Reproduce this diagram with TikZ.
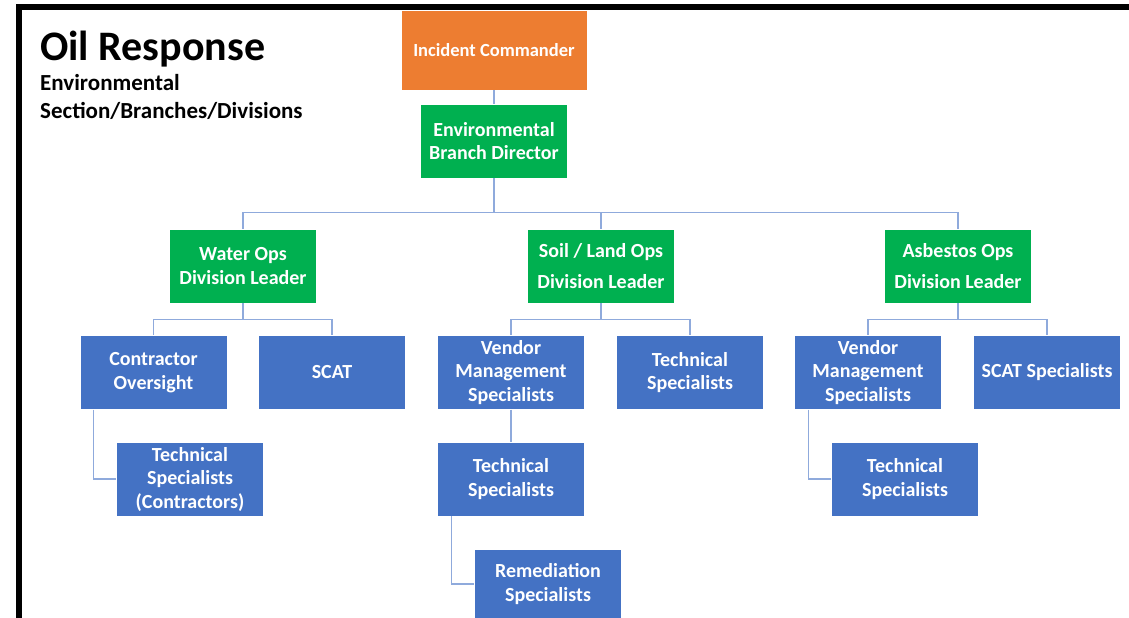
\documentclass[tikz,border=0pt]{standalone}
\usepackage{fontspec}
\setmainfont{Carlito}
\usetikzlibrary{positioning,calc}
\definecolor{cmdorange}{HTML}{ED7D31}
\definecolor{leadgreen}{HTML}{00B050}
\definecolor{opsblue}{HTML}{4472C4}
\definecolor{linkblue}{HTML}{8FAADC}
\tikzset{
    every node/.style={font=\bfseries\fontsize{20}{23.5}\selectfont},
    orangebox/.style={fill=cmdorange, draw=white, text=white, align=center, inner sep=0pt, minimum width=186pt, minimum height=80pt, font=\bfseries\fontsize{18.5}{22}\selectfont},
    greenbox/.style={fill=leadgreen, draw=white, text=white, align=center, inner sep=0pt, minimum width=147pt, minimum height=74pt},
    bluebox/.style={fill=opsblue, draw=white, text=white, align=center, inner sep=0pt, minimum width=147pt, minimum height=74pt},
    titletext/.style={text=black, anchor=base west, inner sep=0pt},
    link/.style={draw=linkblue, line width=1.3pt},
}

\begin{document}
\begin{tikzpicture}[x=1pt,y=1pt]
\useasboundingbox (0,0) rectangle (1129,-618);
% frame on top and left
\draw[line width=6pt, line join=miter] (19,-618) -- (19,-7.5) -- (1129,-7.5);

% title
\node[titletext, font=\bfseries\fontsize{42}{48}\selectfont] (title) at (40,-60) {Oil Response};
\node[titletext, font=\bfseries\fontsize{23}{27}\selectfont] (sub1) at (40,-90) {Environmental};
\node[titletext, font=\bfseries\fontsize{23}{27}\selectfont] (sub2) at (40,-118) {Section/Branches/Divisions};

% command and branch
\node[orangebox] (ic) at (494,-50) {Incident Commander};
\node[greenbox] (ebd) at (494,-141) {Environmental\\Branch Director};

% division leaders
\node[greenbox] (water) at (243,-266) {Water Ops\\Division Leader};
\node[greenbox] (soil) at (601,-266) {Soil / Land Ops\\[8pt]Division Leader};
\node[greenbox] (asb) at (958,-266) {Asbestos Ops\\[8pt]Division Leader};

% first row of specialists
\foreach \name/\x/\text in {contr/153.5/Contractor\\Oversight, scat/332/SCAT,
    vendsoil/511/Vendor\\Management\\Specialists, techsoil/690/Technical\\Specialists,
    vendasb/868/Vendor\\Management\\Specialists, scatasb/1047/SCAT Specialists}{
  \node[bluebox] (\name) at (\x,-372.5) {\text};
}

% lower specialists
\node[bluebox] (techcon) at (190,-479) {Technical\\Specialists\\(Contractors)};
\node[bluebox] (techvend) at (511,-479) {Technical\\Specialists};
\node[bluebox, minimum height=70pt] (remed) at (548,-584) {Remediation\\Specialists};
\node[bluebox] (techasb) at (905,-479) {Technical\\Specialists};

% connectors
\draw[link] (ic) -- (ebd);
\draw[link] (ebd.south) -- ++(0,-34) -| (water.north);
\draw[link] (ebd.south) -- ++(0,-34) -| (soil.north);
\draw[link] (ebd.south) -- ++(0,-34) -| (asb.north);

\draw[link] (water.south) -- ++(0,-16) -| (contr.north);
\draw[link] (water.south) -- ++(0,-16) -| (scat.north);
\draw[link] (soil.south) -- ++(0,-16) -| (vendsoil.north);
\draw[link] (soil.south) -- ++(0,-16) -| (techsoil.north);
\draw[link] (asb.south) -- ++(0,-16) -| (vendasb.north);
\draw[link] (asb.south) -- ++(0,-16) -| (scatasb.north);

\draw[link] ([xshift=14pt]contr.south west) |- (techcon.west);
\draw[link] (vendsoil) -- (techvend);
\draw[link] ([xshift=14pt]techvend.south west) |- (remed.west);
\draw[link] ([xshift=14pt]vendasb.south west) |- (techasb.west);

\end{tikzpicture}
\end{document}
